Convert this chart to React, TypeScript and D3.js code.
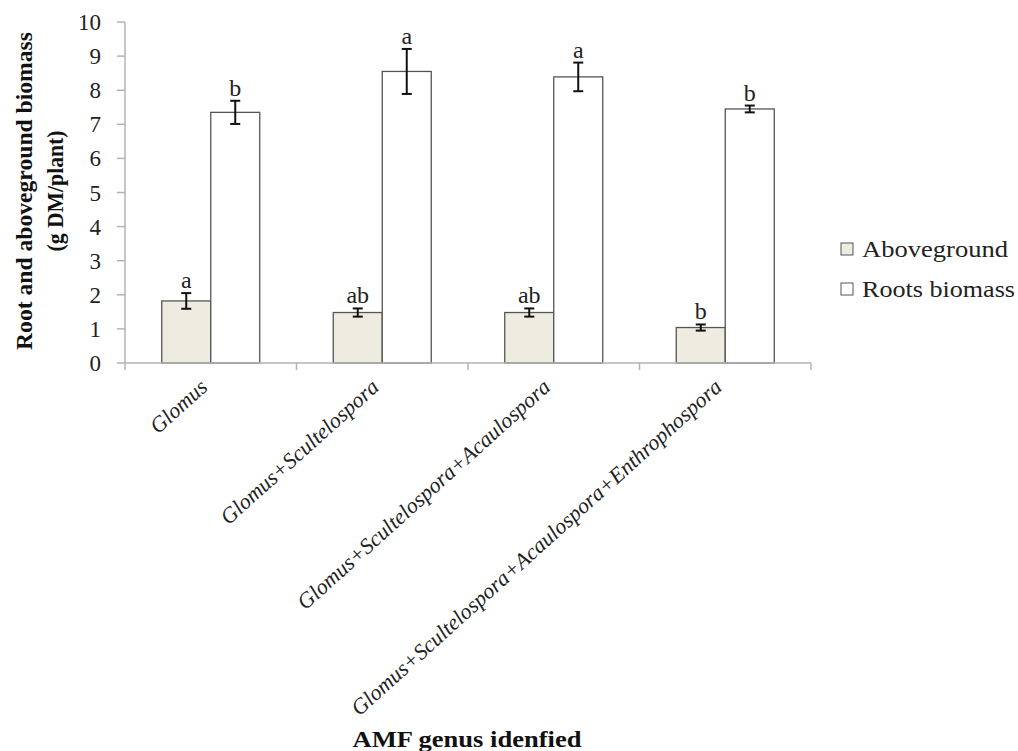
import React from "react";
import * as d3 from "d3";

const categories = [
  "Glomus",
  "Glomus+Scultelospora",
  "Glomus+Scultelospora+Acaulospora",
  "Glomus+Scultelospora+Acaulospora+Enthrophospora",
];
const aboveground = [1.82, 1.48, 1.48, 1.04];
const abovegroundErr = [0.23, 0.12, 0.12, 0.09];
const abovegroundLetters = ["a", "ab", "ab", "b"];
const roots = [7.35, 8.55, 8.39, 7.45];
const rootsErr = [0.34, 0.66, 0.42, 0.1];
const rootsLetters = ["b", "a", "a", "b"];
const yTicks = [0, 1, 2, 3, 4, 5, 6, 7, 8, 9, 10];

const W = 1018;
const H = 751;
const font = "Liberation Serif, Times New Roman, Times, serif";

export default function App() {
  const x = d3.scaleBand<string>().domain(categories).range([125, 811]).padding(0);
  const y = d3.scaleLinear().domain([0, 10]).range([363, 22]);
  const barW = 49;

  const series = [
    { name: "Aboveground", vals: aboveground, err: abovegroundErr, letters: abovegroundLetters, fill: "#eeebe0", off: -barW, len: 146 },
    { name: "Roots biomass", vals: roots, err: rootsErr, letters: rootsLetters, fill: "#ffffff", off: 0, len: 153 },
  ];

  const boundaries = categories.map((c) => x(c)!).concat([x.range()[1]]);

  return (
    <svg width={W} height={H} style={{ position: "absolute", left: 0, top: 0, background: "#fff", fontFamily: font }}>
      {/* bars */}
      {series.map((s) =>
        categories.map((c, i) => {
          const cx = x(c)! + x.bandwidth() / 2;
          const bx = cx + s.off;
          const mid = bx + barW / 2;
          const top = y(s.vals[i] + s.err[i]);
          const bot = y(s.vals[i] - s.err[i]);
          return (
            <g key={s.name + c}>
              <rect x={bx} y={y(s.vals[i])} width={barW} height={y(0) - y(s.vals[i])} fill={s.fill} stroke="#555" strokeWidth={1.3} />
              <line x1={mid} x2={mid} y1={top} y2={bot} stroke="#111" strokeWidth={2} />
              <line x1={mid - 5} x2={mid + 5} y1={top} y2={top} stroke="#111" strokeWidth={2} />
              <line x1={mid - 5} x2={mid + 5} y1={bot} y2={bot} stroke="#111" strokeWidth={2} />
              <text x={mid} y={top - 5} textAnchor="middle" fontSize={24} fill="#222">
                {s.letters[i]}
              </text>
            </g>
          );
        })
      )}

      {/* axes */}
      <line x1={125} x2={125} y1={y(10)} y2={y(0)} stroke="#b3b3b3" strokeWidth={1.5} />
      <line x1={125} x2={811} y1={y(0)} y2={y(0)} stroke="#b3b3b3" strokeWidth={1.5} />
      {yTicks.map((t) => (
        <g key={t}>
          <line x1={117} x2={125} y1={y(t)} y2={y(t)} stroke="#b3b3b3" strokeWidth={1.5} />
          <text x={101} y={y(t)} dy="0.35em" textAnchor="end" fontSize={23} fill="#222">
            {t}
          </text>
        </g>
      ))}
      {boundaries.map((b, i) => (
        <line key={i} x1={b} x2={b} y1={y(0)} y2={y(0) + 7} stroke="#b3b3b3" strokeWidth={1.5} />
      ))}

      {/* category labels */}
      {categories.map((c) => {
        const cx = x(c)! + x.bandwidth() / 2;
        return (
          <text
            key={c}
            transform={`translate(${cx - 2},${y(0) + 26}) rotate(-42)`}
            textAnchor="end"
            fontSize={22}
            fontStyle="italic"
            fill="#222"
          >
            {c}
          </text>
        );
      })}

      {/* axis titles */}
      <text transform="translate(32,191) rotate(-90)" textAnchor="middle" fontSize={23} fontWeight="bold" fill="#111"
        textLength={318} lengthAdjust="spacingAndGlyphs">
        Root and aboveground biomass
      </text>
      <text transform="translate(63,191) rotate(-90)" textAnchor="middle" fontSize={23} fontWeight="bold" fill="#111"
        textLength={121} lengthAdjust="spacingAndGlyphs">
        (g DM/plant)
      </text>
      <text x={467} y={747} textAnchor="middle" fontSize={23} fontWeight="bold" fill="#111"
        textLength={229} lengthAdjust="spacingAndGlyphs">
        AMF genus idenfied
      </text>

      {/* legend */}
      {series.map((s, i) => (
        <g key={s.name} transform={`translate(841,${243 + i * 40})`}>
          <rect x={0} y={0} width={12} height={12} fill={s.fill} stroke="#555" strokeWidth={1} />
          <text x={21} y={6} dy="0.35em" fontSize={23} fill="#222" textLength={s.len} lengthAdjust="spacingAndGlyphs">
            {s.name}
          </text>
        </g>
      ))}
    </svg>
  );
}
